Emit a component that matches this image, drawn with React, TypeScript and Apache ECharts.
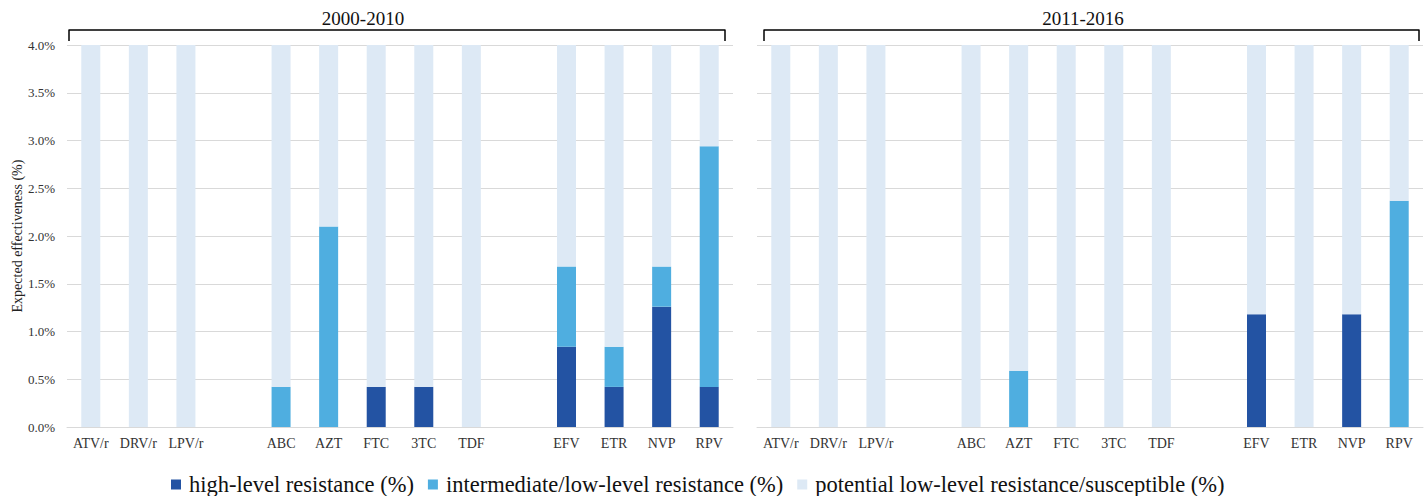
import React, { useEffect, useRef } from "react";
import * as echarts from "echarts";

const categories = ["ATV/r", "DRV/r", "LPV/r", "", "ABC", "AZT", "FTC", "3TC", "TDF", "", "EFV", "ETR", "NVP", "RPV"];
const periods = ["2000-2010", "2011-2016"];
const yTicks = [0, 0.5, 1, 1.5, 2, 2.5, 3, 3.5, 4];
const seriesNames = [
  "high-level resistance (%)",
  "intermediate/low-level resistance (%)",
  "potential low-level resistance/susceptible (%)",
];

// 2000-2010
const highA = [0, 0, 0, null, 0, 0, 0.42, 0.42, 0, null, 0.84, 0.42, 1.26, 0.42];
const interA = [0, 0, 0, null, 0.42, 2.1, 0, 0, 0, null, 0.84, 0.42, 0.42, 2.52];
const suscA = [100, 100, 100, null, 99.58, 97.9, 99.58, 99.58, 100, null, 98.32, 99.16, 98.32, 97.06];
// 2011-2016
const highB = [0, 0, 0, null, 0, 0, 0, 0, 0, null, 1.18, 0, 1.18, 0];
const interB = [0, 0, 0, null, 0, 0.59, 0, 0, 0, null, 0, 0, 0, 2.37];
const suscB = [100, 100, 100, null, 100, 99.41, 100, 100, 100, null, 98.82, 100, 98.82, 97.63];

const colors = ["#2353a3", "#4faee0", "#dde9f5"];
const FONT = "Liberation Serif";

export default function App() {
  const ref = useRef<HTMLDivElement>(null);
  useEffect(() => {
    if (!ref.current) return;
    const chart = echarts.init(ref.current, null, { renderer: "svg" });
    const grids = [
      { left: 67, top: 45, width: 666, height: 382 },
      { left: 757, top: 45, width: 666, height: 382 },
    ];
    const xAxis = grids.map((_, i) => ({
      type: "category",
      gridIndex: i,
      data: categories,
      axisLine: { lineStyle: { color: "#d9d9d9", width: 1 } },
      axisTick: { show: false },
      axisLabel: { color: "#333", fontFamily: FONT, fontSize: 14, margin: 9, interval: 0 },
    }));
    const yAxis = grids.map((_, i) => ({
      type: "value",
      gridIndex: i,
      min: 0,
      max: 4,
      interval: 0.5,
      name: i === 0 ? "Expected effectiveness (%)" : "",
      nameLocation: "middle",
      nameGap: 42,
      nameTextStyle: { fontFamily: FONT, fontSize: 14, color: "#222" },
      axisLine: { show: false },
      axisTick: { show: false },
      splitLine: { lineStyle: { color: "#d9d9d9", width: 1 } },
      axisLabel: {
        show: i === 0,
        color: "#333",
        fontFamily: FONT,
        fontSize: 13,
        margin: 12,
        formatter: (v: number) => (yTicks.includes(v) ? v.toFixed(1) + "%" : ""),
      },
    }));
    const dataSets = [
      [highA, interA, suscA],
      [highB, interB, suscB],
    ];
    const series: any[] = [];
    dataSets.forEach((set, gi) => {
      set.forEach((d, si) => {
        series.push({
          type: "bar",
          name: seriesNames[si],
          xAxisIndex: gi,
          yAxisIndex: gi,
          stack: "s" + gi,
          data: d,
          barWidth: 19,
          clip: true,
          itemStyle: { color: colors[si] },
          emphasis: { disabled: true },
        });
      });
    });
    const bracket = (x1: number, x2: number) => ({
      type: "polyline",
      shape: { points: [[x1, 41], [x1, 30], [x2, 30], [x2, 41]] },
      style: { stroke: "#000", lineWidth: 1.5, fill: "none", lineJoin: "round" },
    });
    chart.setOption({
      animation: false,
      grid: grids,
      xAxis,
      yAxis,
      series,
      legend: {
        data: seriesNames,
        top: 468,
        left: 166,
        icon: "rect",
        itemWidth: 10,
        itemHeight: 10,
        itemGap: 14,
        textStyle: { fontFamily: FONT, fontSize: 22.5, color: "#111", padding: [0, 0, 0, 3] },
        selectedMode: false,
      },
      graphic: [
        bracket(69, 725),
        bracket(764, 1419),
        {
          type: "text",
          x: 363,
          y: 18,
          style: { text: periods[0], fontFamily: FONT, fontSize: 19, fill: "#111", align: "center", verticalAlign: "middle" },
        },
        {
          type: "text",
          x: 1083,
          y: 18,
          style: { text: periods[1], fontFamily: FONT, fontSize: 19, fill: "#111", align: "center", verticalAlign: "middle" },
        },
      ],
    });
    return () => chart.dispose();
  }, []);
  return <div ref={ref} style={{ width: 1426, height: 496, position: "absolute", left: 0, top: 0 }} />;
}
